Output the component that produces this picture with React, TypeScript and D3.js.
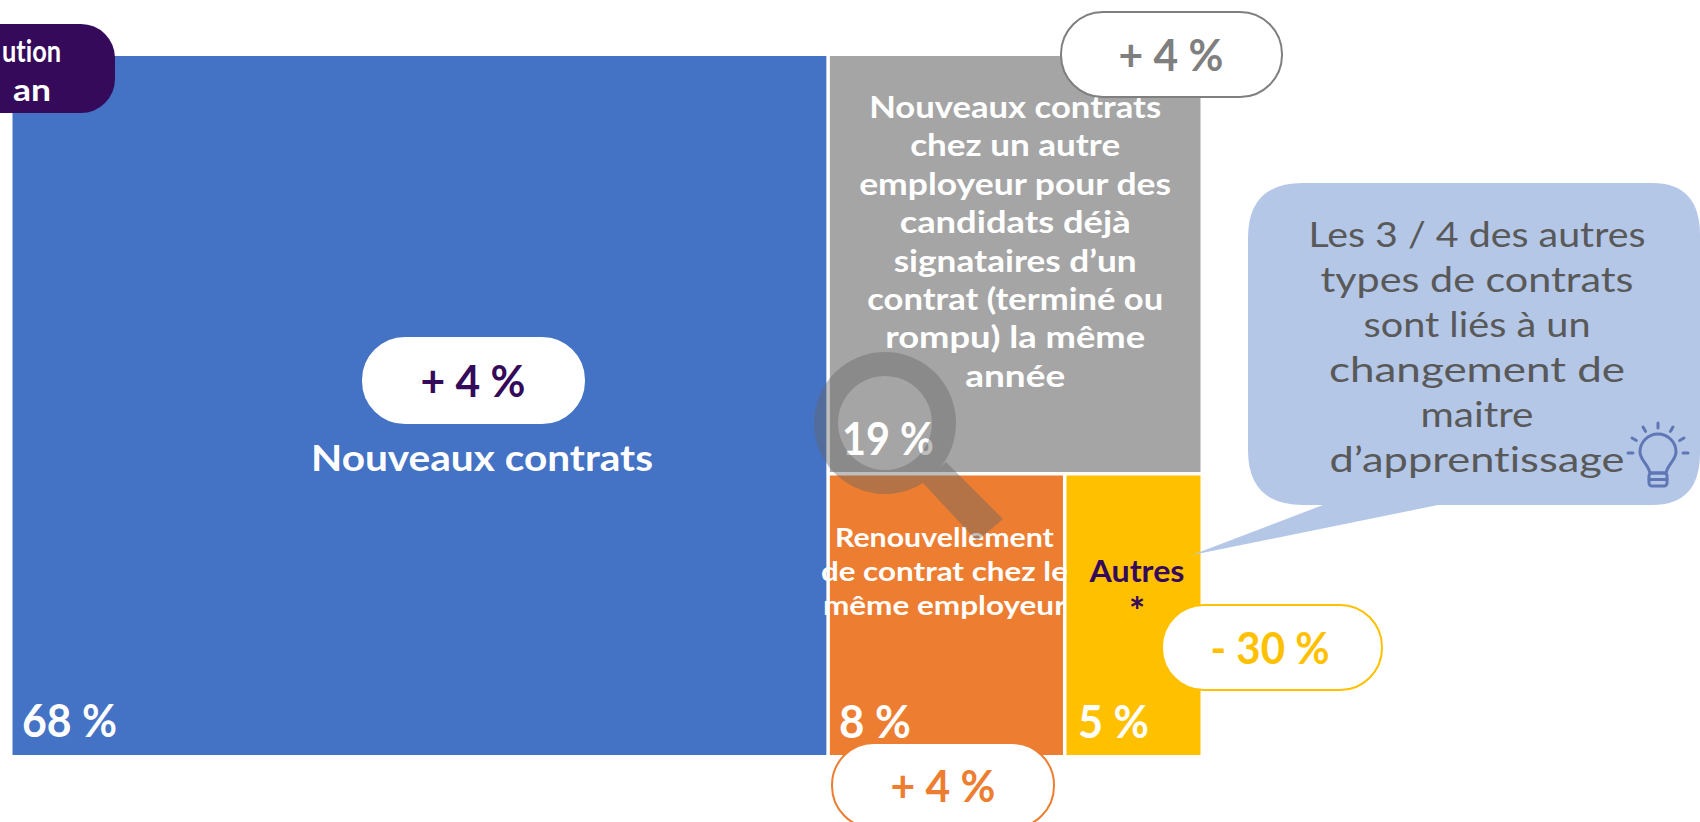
import * as d3 from 'd3';

const categories = ['Nouveaux contrats', 'Autre employeur', 'Renouvellement', 'Autres'];
const shares = [68.6, 18.75, 8.0, 4.65];
const shareLabels = ['68 %', '19 %', '8 %', '5 %'];
const changeLabels = ['+ 4 %', '+ 4 %', '+ 4 %', '- 30 %'];
const colors = ['#4472c4', '#a5a5a5', '#ed7d31', '#ffc000'];

const greyLines = [
  'Nouveaux contrats', 'chez un autre', 'employeur pour des', 'candidats déjà',
  'signataires d’un', 'contrat (terminé ou', 'rompu) la même', 'année',
];
const orangeLines = ['Renouvellement', 'de contrat chez le', 'même employeur'];
const noteLines = [
  'Les 3 / 4 des autres', 'types de contrats', 'sont liés à un',
  'changement de', 'maitre', 'd’apprentissage',
];

const PURPLE = '#350a5a';
const SANS = 'Lato, "Open Sans", sans-serif';

type Leaf = { name: string; value?: number; children?: Leaf[] };

const tree: Leaf = {
  name: 'root',
  children: [
    { name: categories[0], value: shares[0] },
    {
      name: 'right',
      children: [
        { name: categories[1], value: shares[1] },
        {
          name: 'bottom',
          children: [
            { name: categories[2], value: shares[2] },
            { name: categories[3], value: shares[3] },
          ],
        },
      ],
    },
  ],
};

function Txt({ x, y, size, len, fill = '#fff', weight = 700, anchor = 'middle', children }: any) {
  return (
    <text
      x={x}
      y={y}
      fontSize={size}
      fontWeight={weight}
      fill={fill}
      textAnchor={anchor}
      fontFamily={SANS}
      textLength={len}
      lengthAdjust="spacingAndGlyphs"
      style={{ fontVariantLigatures: 'none' }}
    >
      {children}
    </text>
  );
}

function Pill({ x, y, w, stroke, label, color, tx, ty, len }: any) {
  return (
    <g>
      <rect x={x} y={y} width={w} height={85} rx={42} fill="#fff" stroke={stroke} strokeWidth={2} />
      <Txt x={tx} y={ty} size={44} fill={color} len={len}>{label}</Txt>
    </g>
  );
}

export default function App() {
  const root = d3.hierarchy<Leaf>(tree).sum(d => d.value ?? 0);
  d3.treemap<Leaf>()
    .tile(d3.treemapSliceDice)
    .size([1188, 699])
    .paddingInner(3.5)(root);
  const leaves = root.leaves() as d3.HierarchyRectangularNode<Leaf>[];
  const byName = (n: string) => leaves.find(l => l.data.name === n)!;
  const offX = 12.5;
  const offY = 56;

  const gCx = (byName(categories[1]).x0 + byName(categories[1]).x1) / 2 + offX;
  const oCx = (byName(categories[2]).x0 + byName(categories[2]).x1) / 2 + offX;

  const bulbX = 1658;
  const bulbY = 453;
  const rays = d3.range(-90, 91, 30).map(a => {
    const r = ((a - 90) * Math.PI) / 180;
    return {
      x1: bulbX + 25 * Math.cos(r),
      y1: bulbY + 25 * Math.sin(r),
      x2: bulbX + 30 * Math.cos(r),
      y2: bulbY + 30 * Math.sin(r),
    };
  });

  return (
    <svg
      width={1700}
      height={822}
      style={{ position: 'absolute', left: 0, top: 0, display: 'block', background: '#fff' }}
    >
      <g transform={`translate(${offX},${offY})`}>
        {leaves.map((l, i) => (
          <rect
            key={l.data.name}
            x={l.x0}
            y={l.y0}
            width={l.x1 - l.x0}
            height={l.y1 - l.y0}
            fill={colors[i]}
          />
        ))}
      </g>

      {/* top-left tag, cut by the page edge */}
      <rect x={-120} y={24} width={235} height={89} rx={34} fill={PURPLE} />
      <Txt x={61} y={62} size={31} anchor="end" len={59}>ution</Txt>
      <Txt x={51} y={101} size={31} anchor="end" len={38}>an</Txt>

      {/* labels in the cells */}
      <Txt x={482} y={471} size={36} len={342}>{categories[0]}</Txt>
      {greyLines.map((t, i) => (
        <Txt key={t} x={gCx} y={118 + i * 38.4} size={31} len={[292, 210, 312, 231, 243, 296, 260, 100][i]}>{t}</Txt>
      ))}
      {orangeLines.map((t, i) => (
        <Txt key={t} x={oCx - 2} y={547 + i * 34} size={26} len={[219, 247, 243][i]}>{t}</Txt>
      ))}
      <Txt x={1137} y={582} size={31} fill={PURPLE} len={95}>{categories[3]}</Txt>
      <Txt x={1137} y={625} size={38} fill={PURPLE}>*</Txt>

      <Txt x={22} y={737} size={45} anchor="start" len={95}>{shareLabels[0]}</Txt>
      <Txt x={842} y={455} size={45} anchor="start" len={92}>{shareLabels[1]}</Txt>
      <Txt x={839} y={738} size={45} anchor="start" len={72}>{shareLabels[2]}</Txt>
      <Txt x={1078} y={738} size={45} anchor="start" len={71}>{shareLabels[3]}</Txt>

      {/* change tags */}
      <Pill x={363} y={338} w={221} stroke="#fff" label={changeLabels[0]} color={PURPLE} tx={473} ty={397} len={105} />
      <Pill x={1061} y={12} w={221} stroke="#7f7f7f" label={changeLabels[1]} color="#7f7f7f" tx={1171} ty={71} len={105} />
      <Pill x={832} y={743} w={222} stroke={colors[2]} label={changeLabels[2]} color={colors[2]} tx={943} ty={802} len={105} />
      <Pill x={1162} y={605} w={220} stroke={colors[3]} label={changeLabels[3]} color={colors[3]} tx={1270} ty={664} len={119} />

      {/* magnifier */}
      <g opacity={0.42}>
        <path
          d="M885,352a71,71 0 1,0 0.01,0ZM885,376a47,47 0 1,1 -0.01,0Z"
          fill="#666"
          fillRule="evenodd"
        />
        <path d="M923,483L946,462L1003,519L977,541Z" fill="#666" />
      </g>

      {/* note bubble */}
      <path
        d="M1303,183H1652Q1700,183 1700,235V453Q1700,505 1652,505H1438L1192,555L1323,505H1303Q1248,505 1248,450V238Q1248,183 1303,183Z"
        fill="#b4c7e7"
      />
      {noteLines.map((t, i) => (
        <Txt
          key={t}
          x={1477}
          y={247 + i * 45}
          size={34}
          weight={400}
          fill="#595959"
          len={[337, 313, 227, 296, 113, 295][i]}
        >
          {t}
        </Txt>
      ))}

      {/* bulb */}
      <g fill="none" stroke="#5f77b5" strokeWidth={3} strokeLinecap="round">
        {rays.map((r, i) => (
          <line key={i} {...r} />
        ))}
        <path d="M1650,473C1648,464 1640,460 1640,452A18,18 0 1,1 1676,452C1676,460 1668,464 1666,473Z" />
        <rect x={1649} y={473} width={18} height={13} rx={3} />
        <line x1={1649} x2={1667} y1={479.5} y2={479.5} />
      </g>
    </svg>
  );
}
